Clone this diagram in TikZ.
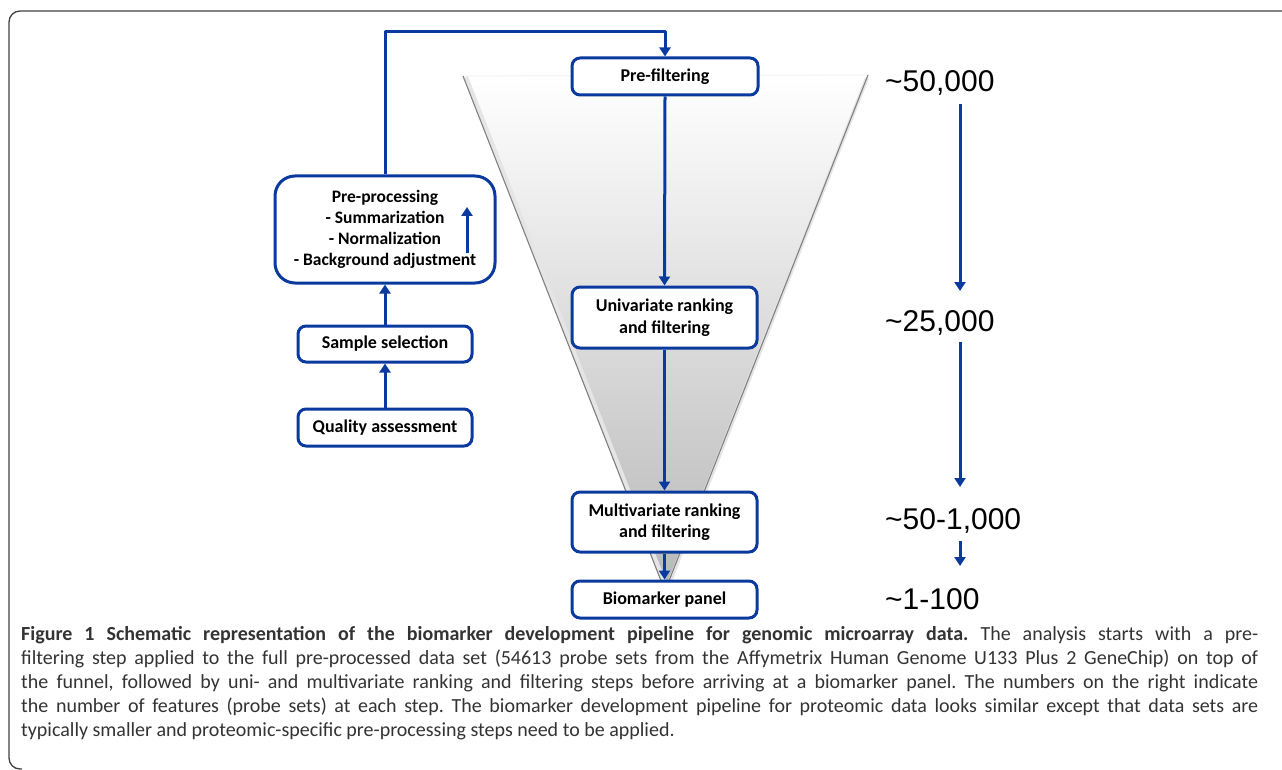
\documentclass[tikz,border=0pt]{standalone}
\usepackage{fontspec}
\setmainfont{Carlito}
\newfontfamily\numfont{Liberation Sans}
\usetikzlibrary{arrows.meta}
\definecolor{pblue}{HTML}{0A3A9E}
\definecolor{captxt}{HTML}{333333}
\tikzset{
  stepbox/.style={draw=pblue, line width=3pt, rounded corners=8pt, fill=white,
    font=\fontsize{18}{21.5}\selectfont\bfseries, align=center, inner sep=0pt},
  arr/.style={draw=pblue, line width=3pt, line join=round,
    -{Triangle[width=11pt,length=9pt]}},
  numlbl/.style={font=\numfont\fontsize{30}{30}\selectfont, anchor=base west, inner sep=0pt},
}
\begin{document}
\frenchspacing
\begin{tikzpicture}[x=1pt,y=-1pt]
\useasboundingbox (0,0) rectangle (1282,770);
% frame
\draw[line width=1.3pt, black!75, rounded corners=11pt] (1282,11) -- (9,11) -- (9,769) -- (22,769);
% funnel
\shade[top color=white, bottom color=black!28] (463,76) -- (868,75) -- (665,591) -- cycle;
\draw[gray!12, line width=0.8pt] (463,76) -- (868,75);
\draw[black!10, line width=4pt] (466,77) -- (667,589) -- (867,78);
\draw[black!50, line width=1.1pt] (463,76) -- (665,591) -- (868,75);
% boxes
\node[stepbox, minimum width=186pt, minimum height=37pt] (pref) at (665,76.5) {Pre-filtering};
\node[stepbox, minimum width=185pt, minimum height=61pt] (univ) at (664.5,317.5) {Univariate ranking\\and filtering};
\node[stepbox, minimum width=185pt, minimum height=60pt] (multi) at (664.5,522) {Multivariate ranking\\and filtering};
\node[stepbox, minimum width=185pt, minimum height=37pt] (bio) at (664.5,599.5) {Biomarker panel};
\node[stepbox, font=\fontsize{17.5}{21}\selectfont\bfseries, rounded corners=20pt, minimum width=220pt, minimum height=107pt] (prep) at (385,229.5) {Pre-processing\\- Summarization\\- Normalization\\- Background adjustment};
\node[stepbox, minimum width=174pt, minimum height=36pt] (samp) at (385,344) {Sample selection};
\node[stepbox, minimum width=174pt, minimum height=37pt] (qual) at (385,427.5) {Quality assessment};
% connectors
\coordinate (loopL) at (385,32);
\coordinate (loopR) at (665,32);
\draw[arr] (prep.north) -- (loopL) -- (loopR) -- (pref.north);
\draw[arr] (pref.south) -- (univ.north);
\draw[arr] (univ.south) -- (multi.north);
\draw[arr] (multi.south) -- (bio.north);
\draw[arr] (qual.north) -- (samp.south);
\draw[arr] (samp.north) -- (prep.south);
\coordinate (ia1) at (467,253);
\coordinate (ia2) at (467,207);
\draw[arr] (ia1) -- (ia2);
% numbers
\node[numlbl] (n1) at (885,92) {\textasciitilde 50,000};
\node[numlbl] (n2) at (885,331) {\textasciitilde 25,000};
\node[numlbl] (n3) at (885,529) {\textasciitilde 50-1,000};
\node[numlbl] (n4) at (885,609) {\textasciitilde 1-100};
\coordinate (a1s) at (960,104);
\coordinate (a1e) at (960,291);
\coordinate (a2s) at (960,342);
\coordinate (a2e) at (960,487);
\coordinate (a3s) at (960,541);
\coordinate (a3e) at (960,566);
\draw[arr] (a1s) -- (a1e);
\draw[arr] (a2s) -- (a2e);
\draw[arr] (a3s) -- (a3e);
% caption
\node[anchor=north west, inner sep=0pt, text width=1237pt, align=justify,
  font=\fontsize{20}{24}\selectfont, text=captxt] (cap) at (21,626) {%
\textbf{Figure 1 Schematic representation of the biomarker development pipeline for genomic microarray data.} The analysis starts with a pre-\linebreak filtering step applied to the full pre-processed data set (54613 probe sets from the Affymetrix Human Genome U133 Plus 2 GeneChip) on top of\linebreak the funnel, followed by uni- and multivariate ranking and filtering steps before arriving at a biomarker panel. The numbers on the right indicate\linebreak the number of features (probe sets) at each step. The biomarker development pipeline for proteomic data looks similar except that data sets are\linebreak typically smaller and proteomic-specific pre-processing steps need to be applied.};
\end{tikzpicture}
\end{document}
